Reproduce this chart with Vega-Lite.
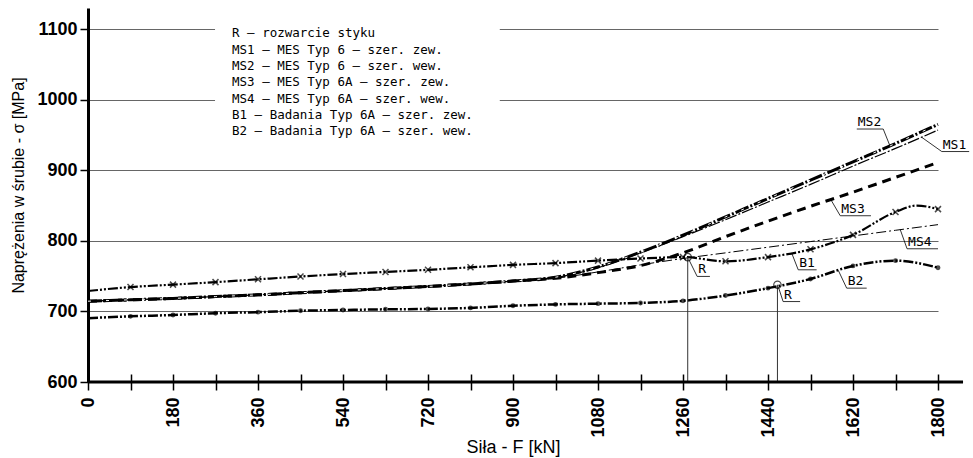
{
  "$schema": "https://vega.github.io/schema/vega-lite/v6.json",
  "width": 850,
  "height": 374,
  "autosize": {"type": "none"},
  "padding": {"left": 88, "top": 8, "right": 35, "bottom": 76},
  "background": "white",
  "config": {
    "view": {"stroke": null},
    "font": "Liberation Sans"
  },
  "datasets": {
    "curves": [
      {"s": "MS1", "F": 0, "S": 714.5}, {"s": "MS1", "F": 90, "S": 716.5}, {"s": "MS1", "F": 180, "S": 718.5},
      {"s": "MS1", "F": 270, "S": 721}, {"s": "MS1", "F": 360, "S": 723.5}, {"s": "MS1", "F": 450, "S": 726.5},
      {"s": "MS1", "F": 540, "S": 729.5}, {"s": "MS1", "F": 630, "S": 732.5}, {"s": "MS1", "F": 720, "S": 735.5},
      {"s": "MS1", "F": 810, "S": 739}, {"s": "MS1", "F": 900, "S": 743}, {"s": "MS1", "F": 990, "S": 748},
      {"s": "MS1", "F": 1080, "S": 762}, {"s": "MS1", "F": 1170, "S": 783}, {"s": "MS1", "F": 1260, "S": 806},
      {"s": "MS1", "F": 1350, "S": 830}, {"s": "MS1", "F": 1440, "S": 855}, {"s": "MS1", "F": 1530, "S": 880},
      {"s": "MS1", "F": 1620, "S": 906}, {"s": "MS1", "F": 1710, "S": 931}, {"s": "MS1", "F": 1800, "S": 957},

      {"s": "MS2", "F": 0, "S": 714.5}, {"s": "MS2", "F": 90, "S": 716.5}, {"s": "MS2", "F": 180, "S": 718.5},
      {"s": "MS2", "F": 270, "S": 721}, {"s": "MS2", "F": 360, "S": 723.5}, {"s": "MS2", "F": 450, "S": 726.5},
      {"s": "MS2", "F": 540, "S": 729.5}, {"s": "MS2", "F": 630, "S": 732.5}, {"s": "MS2", "F": 720, "S": 735.5},
      {"s": "MS2", "F": 810, "S": 739}, {"s": "MS2", "F": 900, "S": 743}, {"s": "MS2", "F": 990, "S": 748.5},
      {"s": "MS2", "F": 1080, "S": 763}, {"s": "MS2", "F": 1170, "S": 784}, {"s": "MS2", "F": 1260, "S": 808},
      {"s": "MS2", "F": 1350, "S": 834}, {"s": "MS2", "F": 1440, "S": 860}, {"s": "MS2", "F": 1530, "S": 886},
      {"s": "MS2", "F": 1620, "S": 912}, {"s": "MS2", "F": 1710, "S": 938}, {"s": "MS2", "F": 1800, "S": 965},

      {"s": "MS3", "F": 0, "S": 714.5}, {"s": "MS3", "F": 90, "S": 716.5}, {"s": "MS3", "F": 180, "S": 718.5},
      {"s": "MS3", "F": 270, "S": 721}, {"s": "MS3", "F": 360, "S": 723.5}, {"s": "MS3", "F": 450, "S": 726.5},
      {"s": "MS3", "F": 540, "S": 729.5}, {"s": "MS3", "F": 630, "S": 732.5}, {"s": "MS3", "F": 720, "S": 735.5},
      {"s": "MS3", "F": 810, "S": 739}, {"s": "MS3", "F": 900, "S": 743}, {"s": "MS3", "F": 990, "S": 747},
      {"s": "MS3", "F": 1080, "S": 755}, {"s": "MS3", "F": 1170, "S": 765}, {"s": "MS3", "F": 1260, "S": 783},
      {"s": "MS3", "F": 1350, "S": 806}, {"s": "MS3", "F": 1440, "S": 828}, {"s": "MS3", "F": 1530, "S": 849},
      {"s": "MS3", "F": 1620, "S": 869}, {"s": "MS3", "F": 1710, "S": 890}, {"s": "MS3", "F": 1800, "S": 911},

      {"s": "MS4", "F": 0, "S": 714.5}, {"s": "MS4", "F": 90, "S": 716.5}, {"s": "MS4", "F": 180, "S": 718.5},
      {"s": "MS4", "F": 270, "S": 721}, {"s": "MS4", "F": 360, "S": 723.5}, {"s": "MS4", "F": 450, "S": 726.5},
      {"s": "MS4", "F": 540, "S": 729.5}, {"s": "MS4", "F": 630, "S": 732.5}, {"s": "MS4", "F": 720, "S": 735.5},
      {"s": "MS4", "F": 810, "S": 739}, {"s": "MS4", "F": 900, "S": 743}, {"s": "MS4", "F": 990, "S": 747},
      {"s": "MS4", "F": 1080, "S": 756}, {"s": "MS4", "F": 1170, "S": 766}, {"s": "MS4", "F": 1260, "S": 775},
      {"s": "MS4", "F": 1350, "S": 783}, {"s": "MS4", "F": 1440, "S": 791}, {"s": "MS4", "F": 1530, "S": 799},
      {"s": "MS4", "F": 1620, "S": 807}, {"s": "MS4", "F": 1710, "S": 815}, {"s": "MS4", "F": 1800, "S": 823},

      {"s": "B1", "F": 0, "S": 729}, {"s": "B1", "F": 90, "S": 734.5}, {"s": "B1", "F": 180, "S": 738},
      {"s": "B1", "F": 270, "S": 741.5}, {"s": "B1", "F": 360, "S": 745.5}, {"s": "B1", "F": 450, "S": 749.5},
      {"s": "B1", "F": 540, "S": 753}, {"s": "B1", "F": 630, "S": 756}, {"s": "B1", "F": 720, "S": 759},
      {"s": "B1", "F": 810, "S": 762.5}, {"s": "B1", "F": 900, "S": 766}, {"s": "B1", "F": 990, "S": 768.5},
      {"s": "B1", "F": 1080, "S": 772}, {"s": "B1", "F": 1170, "S": 775}, {"s": "B1", "F": 1260, "S": 777},
      {"s": "B1", "F": 1350, "S": 771}, {"s": "B1", "F": 1440, "S": 777}, {"s": "B1", "F": 1530, "S": 788},
      {"s": "B1", "F": 1620, "S": 808.5}, {"s": "B1", "F": 1710, "S": 841}, {"s": "B1", "F": 1755, "S": 850},
      {"s": "B1", "F": 1800, "S": 845},

      {"s": "B2", "F": 0, "S": 690.5}, {"s": "B2", "F": 90, "S": 693}, {"s": "B2", "F": 180, "S": 695},
      {"s": "B2", "F": 270, "S": 697.5}, {"s": "B2", "F": 360, "S": 699}, {"s": "B2", "F": 450, "S": 701},
      {"s": "B2", "F": 540, "S": 702}, {"s": "B2", "F": 630, "S": 703}, {"s": "B2", "F": 720, "S": 703.5},
      {"s": "B2", "F": 810, "S": 705}, {"s": "B2", "F": 900, "S": 708}, {"s": "B2", "F": 990, "S": 710},
      {"s": "B2", "F": 1080, "S": 711}, {"s": "B2", "F": 1170, "S": 712}, {"s": "B2", "F": 1260, "S": 715},
      {"s": "B2", "F": 1350, "S": 722.5}, {"s": "B2", "F": 1440, "S": 733}, {"s": "B2", "F": 1530, "S": 746},
      {"s": "B2", "F": 1620, "S": 764.5}, {"s": "B2", "F": 1710, "S": 772}, {"s": "B2", "F": 1800, "S": 762}
    ],
    "rpoints": [
      {"F": 1270, "S": 777},
      {"F": 1460, "S": 737.8}
    ],
    "callouts": [
      {"lab": "MS2", "F": 1698, "S": 935, "Fe": 1684, "Se": 958.5, "Fl": 1628, "Fr": 1684},
      {"lab": "MS1", "F": 1765, "S": 947, "Fe": 1808, "Se": 926.6, "Fl": 1808, "Fr": 1866},
      {"lab": "MS3", "F": 1573, "S": 858.5, "Fe": 1593, "Se": 835.6, "Fl": 1593, "Fr": 1658},
      {"lab": "MS4", "F": 1720, "S": 816, "Fe": 1734.5, "Se": 788.8, "Fl": 1734.5, "Fr": 1800},
      {"lab": "B1", "F": 1490, "S": 783, "Fe": 1504, "Se": 759, "Fl": 1504, "Fr": 1543},
      {"lab": "B2", "F": 1589, "S": 758, "Fe": 1606.6, "Se": 733, "Fl": 1606.6, "Fr": 1649},
      {"lab": "R", "F": 1272, "S": 774, "Fe": 1290, "Se": 749.6, "Fl": 1290, "Fr": 1317},
      {"lab": "R", "F": 1462, "S": 734.5, "Fe": 1472, "Se": 714, "Fl": 1472, "Fr": 1508}
    ],
    "legend": [
      {"t": "R – rozwarcie styku", "S": 1094.8},
      {"t": "MS1 – MES Typ 6 – szer. zew.", "S": 1070.7},
      {"t": "MS2 – MES Typ 6 – szer. wew.", "S": 1048},
      {"t": "MS3 – MES Typ 6A – szer. zew.", "S": 1025.4},
      {"t": "MS4 – MES Typ 6A – szer. wew.", "S": 1001.3},
      {"t": "B1 – Badania Typ 6A – szer. zew.", "S": 978.6},
      {"t": "B2 – Badania Typ 6A – szer. wew.", "S": 956}
    ]
  },
  "layer": [
    {
      "data": {"name": "curves"},
      "transform": [{"filter": "datum.s === 'MS1'"}],
      "mark": {"type": "line", "interpolate": "monotone", "color": "black", "strokeWidth": 1.2, "strokeDash": [12, 2, 2, 2]},
      "encoding": {
        "x": {
          "field": "F", "type": "quantitative",
          "scale": {"domain": [0, 1800], "nice": false},
          "axis": {
            "title": "Siła - F [kN]",
            "values": [0, 90, 180, 270, 360, 450, 540, 630, 720, 810, 900, 990, 1080, 1170, 1260, 1350, 1440, 1530, 1620, 1710, 1800],
            "format": "d",
            "labelExpr": "datum.value % 180 === 0 ? datum.label : ''",
            "labelAngle": -90, "labelAlign": "right", "labelBaseline": "middle",
            "labelFontSize": 18, "labelFontWeight": "bold", "labelColor": "black",
            "labelPadding": 7, "labelFlush": false, "labelOverlap": false,
            "tickSize": 16, "tickWidth": 1.5, "tickColor": "black",
            "domain": false, "grid": false, "offset": -8,
            "titleFontSize": 18, "titleFontWeight": "normal", "titleColor": "black", "titlePadding": 1
          }
        },
        "y": {
          "field": "S", "type": "quantitative",
          "scale": {"domain": [600, 1130], "nice": false, "zero": false},
          "axis": {
            "title": "Naprężenia w śrubie - σ [MPa]",
            "values": [600, 700, 800, 900, 1000, 1100],
            "format": "d",
            "labelFontSize": 18, "labelFontWeight": "bold", "labelColor": "black", "labelPadding": 3,
            "tickSize": 8, "tickWidth": 1.5, "tickColor": "black",
            "domainColor": "black", "domainWidth": 3,
            "grid": true, "gridColor": "#666", "gridWidth": 1,
            "titleFontSize": 16, "titleFontWeight": "normal", "titleColor": "black",
            "titlePadding": 10, "titleY": 177
          }
        }
      }
    },
    {
      "data": {"name": "curves"},
      "transform": [{"filter": "datum.s === 'MS3'"}],
      "mark": {"type": "line", "interpolate": "monotone", "color": "black", "strokeWidth": 3, "strokeDash": [9, 6]},
      "encoding": {"x": {"field": "F", "type": "quantitative"}, "y": {"field": "S", "type": "quantitative"}}
    },
    {
      "data": {"name": "curves"},
      "transform": [{"filter": "datum.s === 'MS4'"}],
      "mark": {"type": "line", "interpolate": "monotone", "color": "black", "strokeWidth": 1, "strokeDash": [10, 3, 2, 3]},
      "encoding": {"x": {"field": "F", "type": "quantitative"}, "y": {"field": "S", "type": "quantitative"}}
    },
    {
      "data": {"name": "curves"},
      "transform": [{"filter": "datum.s === 'MS2'"}],
      "mark": {"type": "line", "interpolate": "monotone", "color": "black", "strokeWidth": 3, "strokeDash": [14, 2, 2, 2]},
      "encoding": {"x": {"field": "F", "type": "quantitative"}, "y": {"field": "S", "type": "quantitative"}}
    },
    {
      "data": {"name": "curves"},
      "transform": [{"filter": "datum.s === 'MS2'"}],
      "mark": {"type": "line", "interpolate": "monotone", "color": "white", "strokeWidth": 1, "strokeDash": [3, 15]},
      "encoding": {"x": {"field": "F", "type": "quantitative"}, "y": {"field": "S", "type": "quantitative"}}
    },
    {
      "data": {"name": "curves"},
      "transform": [{"filter": "datum.s === 'B1'"}],
      "mark": {"type": "line", "interpolate": "monotone", "color": "black", "strokeWidth": 2.2, "strokeDash": [10, 2, 2, 2, 2, 2]},
      "encoding": {"x": {"field": "F", "type": "quantitative"}, "y": {"field": "S", "type": "quantitative"}}
    },
    {
      "data": {"name": "curves"},
      "transform": [{"filter": "datum.s === 'B1' && datum.F > 0 && datum.F % 90 === 0"}],
      "mark": {"type": "point", "shape": "M-1,-1L1,1M1,-1L-1,1", "filled": false, "color": "black", "strokeWidth": 1.5, "size": 36},
      "encoding": {"x": {"field": "F", "type": "quantitative"}, "y": {"field": "S", "type": "quantitative"}}
    },
    {
      "data": {"name": "curves"},
      "transform": [{"filter": "datum.s === 'B2'"}],
      "mark": {"type": "line", "interpolate": "monotone", "color": "black", "strokeWidth": 2.5, "strokeDash": [10, 2, 2, 2, 2, 2]},
      "encoding": {"x": {"field": "F", "type": "quantitative"}, "y": {"field": "S", "type": "quantitative"}}
    },
    {
      "data": {"name": "curves"},
      "transform": [{"filter": "datum.s === 'B2' && datum.F > 0 && datum.F % 90 === 0"}],
      "mark": {"type": "point", "shape": "circle", "filled": true, "color": "black", "size": 24},
      "encoding": {"x": {"field": "F", "type": "quantitative"}, "y": {"field": "S", "type": "quantitative"}}
    },
    {
      "data": {"name": "rpoints"},
      "mark": {"type": "rule", "color": "#333", "strokeWidth": 1},
      "encoding": {"x": {"field": "F", "type": "quantitative"}, "y": {"field": "S", "type": "quantitative"}, "y2": {"datum": 600}}
    },
    {
      "data": {"name": "rpoints"},
      "mark": {"type": "point", "shape": "circle", "filled": false, "color": "black", "strokeWidth": 1.2, "size": 55},
      "encoding": {"x": {"field": "F", "type": "quantitative"}, "y": {"field": "S", "type": "quantitative"}}
    },
    {
      "data": {"name": "callouts"},
      "mark": {"type": "rule", "color": "black", "strokeWidth": 0.8},
      "encoding": {
        "x": {"field": "F", "type": "quantitative"}, "y": {"field": "S", "type": "quantitative"},
        "x2": {"field": "Fe"}, "y2": {"field": "Se"}
      }
    },
    {
      "data": {"name": "callouts"},
      "mark": {"type": "rule", "color": "black", "strokeWidth": 0.8},
      "encoding": {
        "x": {"field": "Fl", "type": "quantitative"}, "x2": {"field": "Fr"},
        "y": {"field": "Se", "type": "quantitative"}
      }
    },
    {
      "data": {"name": "callouts"},
      "mark": {"type": "text", "align": "left", "baseline": "alphabetic", "dx": 1, "dy": -3, "font": "DejaVu Sans Mono", "fontSize": 13, "color": "black"},
      "encoding": {
        "x": {"field": "Fl", "type": "quantitative"},
        "y": {"field": "Se", "type": "quantitative"},
        "text": {"field": "lab"}
      }
    },
    {
      "data": {"values": [{}]},
      "mark": {"type": "rule", "color": "black", "strokeWidth": 3},
      "encoding": {"x": {"datum": 0}, "x2": {"datum": 1853}, "y": {"datum": 600}}
    },
    {
      "data": {"values": [{}]},
      "mark": {"type": "rect", "color": "white"},
      "encoding": {"x": {"datum": 269}, "x2": {"datum": 872}, "y": {"datum": 940}, "y2": {"datum": 1112}}
    },
    {
      "data": {"name": "legend"},
      "mark": {"type": "text", "align": "left", "baseline": "middle", "font": "DejaVu Sans Mono", "fontSize": 12.5, "color": "black"},
      "encoding": {
        "x": {"datum": 305},
        "y": {"field": "S", "type": "quantitative"},
        "text": {"field": "t"}
      }
    }
  ]
}
